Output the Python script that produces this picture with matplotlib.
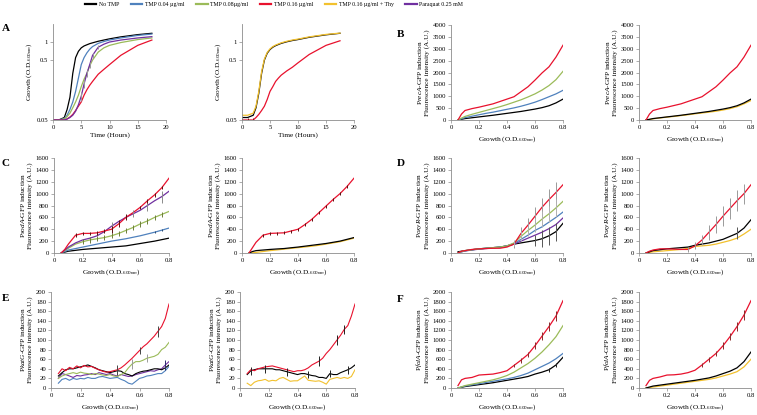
import numpy as np
import matplotlib
matplotlib.use("Agg")
import matplotlib.pyplot as plt
from matplotlib.lines import Line2D

plt.rcParams['font.family'] = ['Liberation Serif', 'DejaVu Serif']
plt.rcParams['mathtext.fontset'] = 'custom'
plt.rcParams['mathtext.rm'] = 'Liberation Serif'
plt.rcParams['mathtext.it'] = 'Liberation Serif:italic'

# colours
BLACK = '#000000'
BLUE = '#4f81bd'
GREEN = '#9bbb59'
RED = '#e8112d'
YELLOW = '#f2c12e'
PURPLE = '#7030a0'

legend_labels = ['No TMP', 'TMP 0.04 µg/ml', 'TMP 0.08µg/ml', 'TMP 0.16 µg/ml',
                 'TMP 0.16 µg/ml + Thy', 'Paraquat 0.25 mM']
legend_colors = [BLACK, BLUE, GREEN, RED, YELLOW, PURPLE]

# ---- panel A : growth curves (hours) ----
t_a = [0, 1, 2, 2.5, 3, 3.5, 4, 4.5, 5, 5.5, 6, 6.5, 7, 8, 9, 10, 12, 15, 17.5]
a_black = [0.05, 0.05, 0.055, 0.075, 0.12, 0.3, 0.55, 0.7, 0.8, 0.86, 0.9, 0.94, 0.97, 1.03, 1.08, 1.13, 1.22, 1.33, 1.4]
a_blue = [0.05, 0.05, 0.053, 0.06, 0.075, 0.1, 0.15, 0.25, 0.42, 0.55, 0.66, 0.76, 0.84, 0.95, 1.02, 1.08, 1.17, 1.29, 1.36]
a_green = [0.05, 0.05, 0.052, 0.057, 0.065, 0.08, 0.1, 0.13, 0.18, 0.24, 0.3, 0.4, 0.5, 0.68, 0.8, 0.88, 0.98, 1.1, 1.17]
a_purple = [0.05, 0.05, 0.05, 0.052, 0.055, 0.06, 0.07, 0.09, 0.125, 0.2, 0.3, 0.42, 0.6, 0.82, 0.92, 1.0, 1.08, 1.17, 1.23]
a_red = [0.05, 0.05, 0.05, 0.052, 0.056, 0.062, 0.072, 0.085, 0.1, 0.13, 0.16, 0.19, 0.22, 0.29, 0.35, 0.42, 0.6, 0.88, 1.08]
a2_black = [0.055, 0.055, 0.06, 0.08, 0.14, 0.3, 0.5, 0.65, 0.75, 0.82, 0.87, 0.91, 0.95, 1.01, 1.06, 1.1, 1.2, 1.32, 1.4]
a2_yellow = [0.06, 0.06, 0.065, 0.085, 0.15, 0.32, 0.52, 0.67, 0.77, 0.84, 0.89, 0.93, 0.97, 1.03, 1.08, 1.12, 1.22, 1.34, 1.41]
a2_red = [0.05, 0.05, 0.05, 0.055, 0.062, 0.072, 0.085, 0.11, 0.15, 0.18, 0.22, 0.25, 0.28, 0.33, 0.38, 0.45, 0.62, 0.88, 1.05]

# ---- panels B, C, D, F : fluorescence vs growth ----
g = [0.05, 0.075, 0.1, 0.15, 0.2, 0.25, 0.3, 0.35, 0.4, 0.45, 0.5, 0.55, 0.6, 0.65, 0.7, 0.75, 0.8]

b_red = [0, 250, 400, 480, 540, 610, 680, 780, 880, 980, 1190, 1400, 1680, 1980, 2240, 2650, 3150]
b_green = [0, 80, 150, 240, 320, 400, 480, 560, 650, 750, 850, 970, 1100, 1260, 1450, 1700, 2050]
b_blue = [0, 50, 100, 160, 220, 280, 330, 390, 450, 510, 580, 660, 750, 860, 980, 1100, 1250]
b_black = [0, 30, 60, 95, 130, 165, 200, 240, 280, 320, 360, 410, 460, 520, 600, 720, 880]
b_yellow = [0, 20, 50, 85, 120, 150, 185, 220, 260, 295, 330, 370, 420, 480, 560, 680, 820]

c_red = [0, 60, 150, 300, 330, 330, 340, 370, 400, 490, 600, 680, 770, 880, 980, 1100, 1260]
c_purple = [0, 50, 100, 170, 220, 250, 290, 360, 450, 530, 600, 660, 720, 800, 880, 950, 1040]
c_green = [0, 40, 80, 150, 190, 220, 240, 260, 290, 330, 380, 430, 490, 540, 600, 650, 700]
c_blue = [0, 25, 50, 75, 100, 125, 150, 175, 200, 220, 240, 265, 290, 320, 350, 385, 420]
c_black = [0, 15, 30, 45, 60, 70, 80, 90, 100, 110, 120, 140, 160, 180, 200, 225, 250]
c2_red = [0, 90, 180, 300, 330, 335, 340, 370, 400, 480, 570, 680, 790, 900, 1000, 1120, 1260]
c2_black = [0, 25, 40, 50, 60, 68, 75, 88, 100, 115, 130, 145, 160, 180, 200, 230, 260]
c2_yellow = [0, 5, 10, 25, 40, 52, 65, 78, 90, 102, 115, 130, 150, 170, 190, 220, 250]

d_red = [0, 30, 40, 60, 70, 75, 80, 80, 100, 150, 330, 470, 620, 770, 900, 1020, 1150]
d_green = [0, 25, 40, 55, 70, 80, 90, 100, 120, 170, 280, 380, 470, 570, 660, 760, 870]
d_blue = [0, 20, 35, 55, 70, 80, 90, 100, 120, 160, 230, 300, 380, 440, 520, 600, 690]
d_purple = [0, 20, 35, 50, 65, 75, 85, 95, 120, 150, 200, 250, 300, 350, 410, 480, 590]
d_black = [20, 30, 40, 55, 70, 80, 90, 100, 120, 150, 170, 190, 210, 240, 290, 360, 500]
d2_red = [0, 30, 50, 70, 70, 65, 60, 60, 120, 220, 350, 480, 620, 750, 880, 1000, 1150]
d2_black = [0, 20, 40, 55, 70, 80, 90, 100, 130, 150, 170, 200, 230, 280, 330, 420, 560]
d2_yellow = [0, 10, 20, 30, 40, 50, 60, 80, 110, 120, 130, 150, 180, 210, 250, 320, 400]

f_red = [50, 170, 200, 220, 270, 280, 290, 320, 360, 470, 580, 700, 880, 1080, 1280, 1500, 1820]
f_green = [0, 25, 50, 80, 110, 140, 170, 210, 260, 330, 420, 510, 620, 750, 900, 1070, 1300]
f_blue = [0, 20, 40, 65, 90, 115, 140, 165, 190, 220, 260, 310, 380, 450, 520, 610, 720]
f_black = [0, 15, 30, 50, 70, 90, 110, 135, 160, 185, 210, 240, 290, 330, 380, 480, 640]
f2_red = [50, 160, 200, 230, 270, 275, 290, 320, 370, 480, 600, 720, 880, 1070, 1280, 1520, 1820]
f2_black = [0, 20, 40, 60, 80, 100, 120, 140, 160, 185, 210, 250, 300, 350, 420, 550, 750]
f2_yellow = [0, 10, 20, 40, 60, 80, 100, 120, 140, 160, 180, 210, 250, 290, 340, 440, 600]

# ---- panel E : noisy katG curves ----
ge = [0.05 + 0.025 * i for i in range(31)]
e_red = [30, 40, 36, 43, 40, 46, 42, 47, 44, 45, 41, 38, 35, 33, 34, 36, 38, 42, 48, 55, 62, 70, 78, 86, 92, 100, 108, 118, 128, 145, 175]
e_green = [20, 25, 28, 30, 32, 30, 33, 31, 30, 28, 30, 29, 27, 26, 28, 25, 24, 28, 32, 42, 50, 55, 55, 58, 62, 64, 66, 70, 80, 85, 95]
e_black = [25, 32, 38, 40, 40, 42, 44, 46, 48, 45, 42, 38, 36, 34, 32, 34, 36, 35, 30, 28, 25, 30, 33, 35, 36, 38, 40, 40, 38, 42, 48]
e_purple = [20, 30, 28, 25, 22, 26, 25, 27, 28, 30, 28, 32, 30, 28, 30, 27, 25, 28, 26, 24, 25, 28, 30, 32, 34, 36, 35, 38, 40, 48, 55]
e_blue = [10, 18, 20, 16, 20, 18, 20, 19, 22, 20, 20, 23, 24, 22, 20, 21, 22, 18, 15, 10, 8, 14, 20, 22, 25, 26, 28, 30, 30, 36, 45]
e2_red = [30, 38, 36, 40, 42, 44, 45, 46, 44, 42, 40, 38, 36, 34, 36, 36, 38, 42, 48, 52, 56, 62, 72, 80, 90, 100, 110, 122, 130, 150, 175]
e2_black = [28, 36, 38, 40, 40, 40, 40, 40, 38, 38, 36, 34, 32, 30, 28, 30, 30, 28, 26, 25, 22, 22, 20, 30, 28, 28, 32, 35, 38, 42, 48]
e2_yellow = [10, 5, 12, 15, 16, 18, 14, 16, 15, 20, 22, 18, 14, 15, 15, 20, 25, 16, 15, 14, 15, 12, 8, 18, 20, 22, 20, 22, 20, 24, 38]

W, H = 757, 415
fig = plt.figure(figsize=(W / 100, H / 100), dpi=100)

TICK_FS = 4.8
LAB_FS = 5.2
SPINE = '#8c8c8c'


def make_ax(x0, y0, x1, y1):
    ax = fig.add_axes([x0 / W, 1 - y1 / H, (x1 - x0) / W, (y1 - y0) / H])
    for s in ['top', 'right']:
        ax.spines[s].set_visible(False)
    for s in ['left', 'bottom']:
        ax.spines[s].set_color(SPINE)
        ax.spines[s].set_linewidth(0.6)
    ax.tick_params(labelsize=TICK_FS, length=2, width=0.5, color=SPINE, pad=1.5)
    return ax


def growth_ax(x0, x1):
    ax = make_ax(x0, 24, x1, 120)
    ax.set_yscale('log')
    ax.set_ylim(0.05, 2)
    ax.set_xlim(0, 20)
    ax.set_xticks([0, 5, 10, 15, 20])
    ax.set_yticks([0.05, 0.5, 1])
    ax.set_yticklabels(['0.05', '0.5', '1'])
    ax.minorticks_off()
    ax.set_xlabel('Time (Hours)', fontsize=LAB_FS, labelpad=2)
    ax.set_ylabel('Growth (O.D.$_{600nm}$)', fontsize=LAB_FS, labelpad=2)
    return ax


def fluo_ax(x0, x1, y0, y1, ymax, ystep, gene):
    ax = make_ax(x0, y0, x1, y1)
    ax.set_xlim(0, 0.8)
    ax.set_ylim(0, ymax)
    ax.set_xticks([0, 0.2, 0.4, 0.6, 0.8])
    ax.set_xticklabels(['0', '0.2', '0.4', '0.6', '0.8'])
    ax.set_yticks(np.arange(0, ymax + 1, ystep))
    ax.set_xlabel('Growth (O.D.$_{600nm}$)', fontsize=LAB_FS, labelpad=3)
    ax.set_ylabel('P$\\mathit{' + gene + '}$-GFP induction\nFluorescence intensity (A.U.)',
                  fontsize=LAB_FS, labelpad=2, linespacing=1.1)
    return ax


def err(ax, x, y, idx, e, c):
    xs = [x[i] for i in idx]
    ys = [y[i] for i in idx]
    ax.errorbar(xs, ys, yerr=e, fmt='none', ecolor=c, elinewidth=0.7, capsize=0)


LW = 0.9

# A left
ax = growth_ax(53, 166)
for y, c in [(a_black, BLACK), (a_blue, BLUE), (a_green, GREEN), (a_red, RED), (a_purple, PURPLE)]:
    ax.plot(t_a, y, color=c, lw=LW)
err(ax, t_a, a_purple, range(8, 14), [0.02, 0.03, 0.04, 0.05, 0.06, 0.06], '#9a9a9a')

# A right
ax = growth_ax(242, 354)
ax.plot(t_a, a2_black, color=BLACK, lw=LW)
ax.plot(t_a, a2_yellow, color=YELLOW, lw=LW)
ax.plot(t_a, a2_red, color=RED, lw=LW)
err(ax, t_a, a2_red, [0, 1, 2], [0.004, 0.004, 0.004], '#7a1a1a')

# B
ax = fluo_ax(451, 563, 25, 120, 4000, 500, 'recA')
for y, c in [(b_black, BLACK), (b_blue, BLUE), (b_green, GREEN), (b_red, RED)]:
    ax.plot(g, y, color=c, lw=LW)
ax = fluo_ax(639, 751, 25, 120, 4000, 500, 'recA')
for y, c in [(b_yellow, YELLOW), (b_black, BLACK), (b_red, RED)]:
    ax.plot(g, y, color=c, lw=LW)

# C
ax = fluo_ax(54, 169, 158, 253, 1600, 200, 'sodA')
for y, c in [(c_black, BLACK), (c_blue, BLUE), (c_green, GREEN), (c_purple, PURPLE), (c_red, RED)]:
    ax.plot(g, y, color=c, lw=LW)
err(ax, g, c_green, range(4, 17), 45, '#6e7f3a')
err(ax, g, c_purple, [8, 11, 13, 15], [80, 60, 90, 100], '#8a8a8a')
err(ax, g, c_red, range(3, 11), [30, 30, 30, 30, 40, 60, 60, 50], '#5a1010')
err(ax, g, c_red, [12, 13, 14, 15], 30, '#5a1010')
err(ax, g, c_blue, [14, 15], 20, '#2a4a70')
ax = fluo_ax(242, 354, 158, 253, 1600, 200, 'sodA')
for y, c in [(c2_yellow, YELLOW), (c2_black, BLACK), (c2_red, RED)]:
    ax.plot(g, y, color=c, lw=LW)
err(ax, g, c2_red, range(3, 17), 25, '#5a1010')

# D
ax = fluo_ax(451, 563, 158, 253, 1600, 200, 'oxyR')
for y, c in [(d_black, BLACK), (d_purple, PURPLE), (d_blue, BLUE), (d_green, GREEN), (d_red, RED)]:
    ax.plot(g, y, color=c, lw=LW)
err(ax, g, d_red, range(9, 17), [60, 100, 120, 150, 160, 170, 180, 170], '#9a9a9a')
err(ax, g, d_green, range(9, 17), [50, 80, 100, 120, 130, 140, 150, 150], '#b0b0b0')
err(ax, g, d_black, [12, 13, 14, 15, 16], [100, 140, 150, 150, 160], '#555555')
ax = fluo_ax(639, 751, 158, 253, 1600, 200, 'oxyR')
for y, c in [(d2_yellow, YELLOW), (d2_black, BLACK), (d2_red, RED)]:
    ax.plot(g, y, color=c, lw=LW)
err(ax, g, d2_red, range(7, 17), [40, 60, 90, 130, 150, 170, 180, 180, 170, 160], '#9a9a9a')
err(ax, g, d2_black, [14, 16], [100, 120], '#555555')

# E
ax = fluo_ax(51, 169, 292, 388, 200, 20, 'katG')
for y, c in [(e_blue, BLUE), (e_purple, PURPLE), (e_black, BLACK), (e_green, GREEN), (e_red, RED)]:
    ax.plot(ge, y, color=c, lw=0.8)
err(ax, ge, e_red, [16, 22, 27], [10, 8, 12], '#444444')
err(ax, ge, e_green, [20, 24], [10, 8], '#9a9a9a')
err(ax, ge, e_purple, [29], [10], '#2a2a6a')
ax = fluo_ax(240, 355, 292, 388, 200, 20, 'katG')
for y, c in [(e2_yellow, YELLOW), (e2_black, BLACK), (e2_red, RED)]:
    ax.plot(ge, y, color=c, lw=0.8)
err(ax, ge, e2_black, [1, 5, 11, 17, 23, 28], 8, '#222222')
err(ax, ge, e2_red, [20, 25, 27], 10, '#222222')

# F
ax = fluo_ax(451, 563, 292, 388, 2000, 200, 'folA')
for y, c in [(f_black, BLACK), (f_blue, BLUE), (f_green, GREEN), (f_red, RED)]:
    ax.plot(g, y, color=c, lw=LW)
err(ax, g, f_red, range(9, 17), [40, 50, 60, 70, 80, 90, 100, 100], '#8a2a2a')
err(ax, g, f_black, [14, 15, 16], [40, 50, 60], '#222222')
ax = fluo_ax(639, 751, 292, 388, 2000, 200, 'folA')
for y, c in [(f2_yellow, YELLOW), (f2_black, BLACK), (f2_red, RED)]:
    ax.plot(g, y, color=c, lw=LW)
err(ax, g, f2_red, range(9, 17), [40, 50, 60, 70, 80, 90, 100, 100], '#8a2a2a')

# panel letters
for lab, x, y in [('A', 2, 31), ('B', 397, 37), ('C', 2, 166), ('D', 397, 166), ('E', 2, 301), ('F', 397, 302)]:
    fig.text(x / W, 1 - y / H, lab, fontsize=8, fontweight='bold')

# legend on top
handles = [Line2D([0], [0], color=c, lw=1.6) for c in legend_colors]
fig.legend(handles, legend_labels, loc='center', ncol=6, bbox_to_anchor=(274 / W, 1 - 4.5 / H),
           frameon=False, fontsize=4.2, handlelength=2.0, handletextpad=0.4, columnspacing=2.0,
           borderpad=0, borderaxespad=0)

fig.savefig('out.png', dpi=100)
